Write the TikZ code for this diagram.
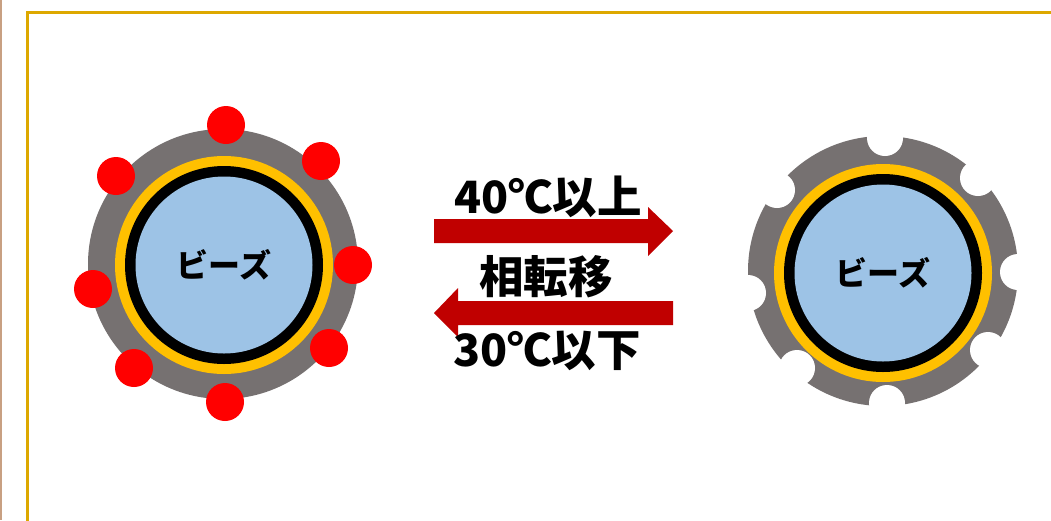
\documentclass[tikz,border=0pt]{standalone}
\usepackage{fontspec}
\newfontfamily\jp{Noto Sans CJK JP}
\definecolor{ringgray}{HTML}{767171}
\definecolor{ringorange}{HTML}{FFC000}
\definecolor{beadblue}{HTML}{9DC3E6}
\definecolor{arrowred}{HTML}{C00000}
\definecolor{framegold}{HTML}{DDA800}
\definecolor{tanline}{HTML}{C8A082}
\begin{document}
\begin{tikzpicture}[x=1pt,y=-1pt,
  shell/.style={circle,fill=ringgray,minimum size=270pt,inner sep=0pt},
  orangering/.style={circle,fill=ringorange,minimum size=218pt,inner sep=0pt},
  blackring/.style={circle,fill=black,minimum size=198pt,inner sep=0pt},
  bead/.style={circle,fill=beadblue,minimum size=177pt,inner sep=0pt,font=\jp\bfseries\fontsize{32}{34}\selectfont},
  dot/.style={circle,fill=red,minimum size=38pt,inner sep=0pt},
  notch/.style={circle,fill=white,minimum size=36pt,inner sep=0pt},
  label/.style={inner sep=0pt,font=\jp\bfseries\fontsize{44.5}{46}\selectfont},
  bigarrow/.style={fill=arrowred}]
\useasboundingbox (0,0) rectangle (1051,520);
\fill[white] (0,0) rectangle (1051,520);
% frame
\draw[tanline,line width=1.5pt] (0.75,0) -- (0.75,520);
\draw[framegold,line width=3pt] (27.5,525) -- (27.5,12) -- (1056,12);
% left bead
\node[shell] (ls) at (223,264) {};
\foreach \p/\n in {{(226,125)}/a,{(321,161)}/b,{(353,265)}/c,{(329,348)}/d,{(225,402)}/e,{(134,368)}/f,{(93,289)}/g,{(116,176)}/h}
  \node[dot] (ld\n) at \p {};
\node[orangering] (lo) at (224,265) {};
\node[blackring] (lk) at (224,265) {};
\node[bead] (lb) at (224,265) {ビーズ};
% right bead
\node[shell] (rs) at (883,271) {};
\foreach \p/\n in {{(885,138)}/a,{(978,178)}/b,{(1018,272)}/c,{(988,350)}/d,{(887,403)}/e,{(797,368)}/f,{(748,293)}/g,{(777,190)}/h}
  \node[notch] (rn\n) at \p {};
\node[orangering] (ro) at (883,273) {};
\node[blackring] (rk) at (883,273) {};
\node[bead] (rb) at (883,273) {ビーズ};
% arrows
\fill[bigarrow] (434,219) -- (648,219) -- (648,207) -- (673,231) -- (648,256) -- (648,243) -- (434,243) -- cycle;
\fill[bigarrow] (673,301) -- (458,301) -- (458,288) -- (434,313) -- (458,337) -- (458,325) -- (673,325) -- cycle;
% labels
\node[label] (t1) at (548,197) {40℃以上};
\node[label] (t2) at (546,277) {相転移};
\node[label] (t3) at (547,351) {30℃以下};
\end{tikzpicture}
\end{document}
